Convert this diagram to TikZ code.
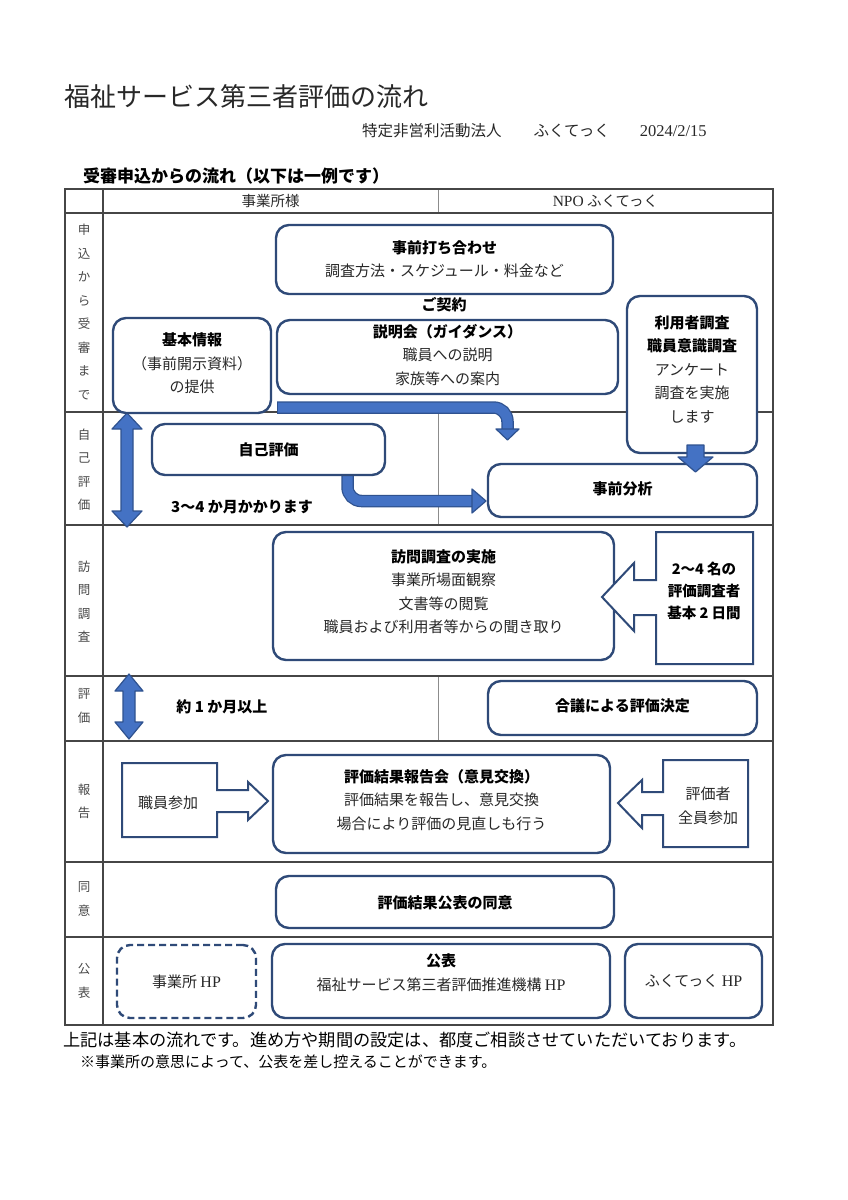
\documentclass[tikz,border=0pt]{standalone}
\usepackage{fontspec}
\setmainfont{Noto Sans CJK JP}
\newfontfamily\lat{Liberation Serif}
\definecolor{navy}{RGB}{47,74,120}
\definecolor{afill}{RGB}{68,114,196}
\definecolor{aedge}{RGB}{47,82,143}
\definecolor{lineg}{RGB}{70,70,70}
\definecolor{lineL}{RGB}{140,140,140}
\definecolor{txt}{RGB}{40,40,40}
\tikzset{
  rbox/.style={draw=navy, line width=2.4pt, rounded corners=13pt, fill=white, inner sep=0pt},
  dbox/.style={rbox, dash pattern=on 7pt off 4pt},
  txtn/.style={align=center, inner sep=0pt, font=\fontsize{15}{23.5}\selectfont, text=txt},
  btxt/.style={align=center, inner sep=0pt, font=\fontsize{15}{23.5}\selectfont\bfseries, text=black},
  callout/.style={draw=navy, line width=2pt, fill=white, line join=miter},
  blk/.style={fill=afill, draw=aedge, line width=1.2pt, line join=round},
  rowlab/.style={align=center, inner sep=0pt, font=\fontsize{12.5}{23.5}\selectfont, text=txt!85},
  tline/.style={draw=lineg, line width=1.2pt},
  mline/.style={draw=lineL, line width=1pt}
}
\begin{document}
\begin{tikzpicture}[x=1pt,y=-1pt]
\useasboundingbox (0,0) rectangle (848,1200);
\fill[white] (0,0) rectangle (848,1200);

% titles
\node[anchor=west, inner sep=0pt, font=\fontsize{26}{30}\selectfont, text=txt] (title) at (64,97) {福祉サービス第三者評価の流れ};
\node[anchor=west, inner sep=0pt, font=\fontsize{15.5}{18}\selectfont, text=txt] (sub) at (362,131) {特定非営利活動法人\hspace{32pt}ふくてっく\hspace{30pt}{\lat\fontsize{16.5}{18}\selectfont 2024/2/15}};
\node[anchor=west, inner sep=0pt, font=\fontsize{17}{19}\selectfont\bfseries] (head) at (83,176) {受審申込からの流れ（以下は一例です）};

% table
\draw[mline] (438,189) -- (438,213);
\draw[mline] (438,412) -- (438,525);
\draw[mline] (438,676) -- (438,741);
\foreach \yy in {213,412,525,676,741,862,937}{\draw[tline] (65,\yy) -- (773,\yy);}
\draw[tline] (103,189) -- (103,1025);
\draw[tline] (65,189) rectangle (773,1025);

\node[txtn, font=\fontsize{14.5}{16}\selectfont] (h1) at (270.5,201) {事業所様};
\node[txtn, font=\fontsize{14.5}{16}\selectfont] (h2) at (605.5,201) {{\lat\fontsize{15.5}{16}\selectfont NPO} ふくてっく};

% row labels
\node[rowlab] (lab1) at (84,312) {申\\込\\か\\ら\\受\\審\\ま\\で};
\node[rowlab] (lab2) at (84,469.5) {自\\己\\評\\価};
\node[rowlab] (lab3) at (84,601.5) {訪\\問\\調\\査};
\node[rowlab] (lab4) at (84,706) {評\\価};
\node[rowlab] (lab5) at (84,801.5) {報\\告};
\node[rowlab] (lab6) at (84,899) {同\\意};
\node[rowlab] (lab7) at (84,981) {公\\表};

% thick flow arrows (behind boxes)
\draw[aedge, line width=12.5pt, rounded corners=14pt] (277,407.5) -- (507.5,407.5) -- (507.5,431);
\draw[afill, line width=10pt, rounded corners=14pt] (278,407.5) -- (507.5,407.5) -- (507.5,432);
\filldraw[blk] (496,429) -- (519,429) -- (507.5,440) -- cycle;

\draw[aedge, line width=12.5pt, rounded corners=14pt] (347.5,465) -- (347.5,501) -- (474,501);
\draw[afill, line width=10pt, rounded corners=14pt] (347.5,465) -- (347.5,501) -- (475,501);
\filldraw[blk] (472,489) -- (486,501) -- (472,513) -- cycle;

% double arrows
\filldraw[blk] (127,413) -- (142,429) -- (133,429) -- (133,511) -- (142,511) -- (127,527) -- (112,511) -- (121,511) -- (121,429) -- (112,429) -- cycle;
\filldraw[blk] (129,674) -- (143,691) -- (135,691) -- (135,722) -- (143,722) -- (129,739) -- (115,722) -- (123,722) -- (123,691) -- (115,691) -- cycle;

% boxes
\node[rbox, minimum width=337pt, minimum height=69pt] (pre) at (444.5,259.5) {};
\node[btxt] (pret) at (444.5,259) {事前打ち合わせ\\\mdseries\color{txt}調査方法・スケジュール・料金など};
\node[btxt] (kei) at (444,305) {ご契約};

\node[rbox, minimum width=341pt, minimum height=74pt] (setsu) at (447.5,357) {};
\node[btxt] (setsut) at (447.5,355) {説明会（ガイダンス）\\\mdseries\color{txt}職員への説明\\\mdseries\color{txt}家族等への案内};

\node[rbox, minimum width=158pt, minimum height=95pt] (kihon) at (192,365.5) {};
\node[btxt] (kihont) at (192,363.5) {基本情報\\\mdseries\color{txt}（事前開示資料）\\\mdseries\color{txt}の提供};

\node[rbox, minimum width=130pt, minimum height=157pt] (riyo) at (692,374.5) {};
\node[btxt] (riyot) at (692,369) {利用者調査\\職員意識調査\\\mdseries\color{txt}アンケート\\\mdseries\color{txt}調査を実施\\\mdseries\color{txt}します};

\node[rbox, minimum width=233pt, minimum height=51pt] (jiko) at (268.5,449.5) {};
\node[btxt] (jikot) at (268.5,450) {自己評価};
\node[btxt] (months) at (242,507) {3〜4 か月かかります};

\node[rbox, minimum width=269pt, minimum height=53pt] (bunseki) at (622.5,490.5) {};
\node[btxt] (bunsekit) at (622.5,489) {事前分析};

% down arrow into analysis
\filldraw[blk] (687,445) -- (704,445) -- (704,457) -- (713,457) -- (695.5,472) -- (678,457) -- (687,457) -- cycle;

% visit
\node[rbox, minimum width=341pt, minimum height=128pt] (houmon) at (443.5,596) {};
\node[btxt] (houmont) at (443.5,591.5) {訪問調査の実施\\\mdseries\color{txt}事業所場面観察\\\mdseries\color{txt}文書等の閲覧\\\mdseries\color{txt}職員および利用者等からの聞き取り};

\draw[callout] (753,532) -- (656,532) -- (656,580) -- (634,580) -- (634,563) -- (602,597) -- (634,631) -- (634,615) -- (656,615) -- (656,664) -- (753,664) -- cycle;
\node[btxt, font=\fontsize{14.5}{22}\selectfont\bfseries] (hyokasha) at (704,591) {2〜4 名の\\評価調査者\\基本 2 日間};

% evaluation
\node[btxt] (ichi) at (222,707) {約 1 か月以上};
\node[rbox, minimum width=269pt, minimum height=54pt] (gogi) at (622.5,708) {};
\node[btxt] (gogit) at (622.5,706) {合議による評価決定};

% report
\draw[callout] (122,763) -- (217,763) -- (217,790) -- (248,790) -- (248,782) -- (268,801) -- (248,820) -- (248,812) -- (217,812) -- (217,837) -- (122,837) -- cycle;
\node[txtn] (shokuin) at (168,803) {職員参加};
\node[rbox, minimum width=337pt, minimum height=98pt] (houkoku) at (441.5,804) {};
\node[btxt] (houkokut) at (441.5,800) {評価結果報告会（意見交換）\\\mdseries\color{txt}評価結果を報告し、意見交換\\\mdseries\color{txt}場合により評価の見直しも行う};
\draw[callout] (663,760) -- (748,760) -- (748,847) -- (663,847) -- (663,815) -- (642,815) -- (642,828) -- (618,803) -- (642,780) -- (642,792) -- (663,792) -- cycle;
\node[txtn] (zenin) at (708,806) {評価者\\全員参加};

% consent
\node[rbox, minimum width=338pt, minimum height=52pt] (doui) at (445,902) {};
\node[btxt] (douit) at (445,903) {評価結果公表の同意};

% publish
\node[dbox, minimum width=139pt, minimum height=73pt] (jhp) at (186.5,981.5) {};
\node[txtn] (jhpt) at (186.5,982) {事業所 {\lat\fontsize{16}{18}\selectfont HP}};
\node[rbox, minimum width=338pt, minimum height=74pt] (kohyo) at (441,981) {};
\node[btxt] (kohyot) at (441,972.5) {公表\\\mdseries\color{txt}福祉サービス第三者評価推進機構 {\lat\fontsize{16}{18}\selectfont HP}};
\node[rbox, minimum width=137pt, minimum height=74pt] (fhp) at (693.5,981) {};
\node[txtn] (fhpt) at (693.5,981) {ふくてっく {\lat\fontsize{16}{18}\selectfont HP}};

% footer
\node[anchor=west, inner sep=0pt, font=\fontsize{17.2}{20}\selectfont] (foot1) at (63,1040) {上記は基本の流れです。進め方や期間の設定は、都度ご相談させていただいております。};
\node[anchor=west, inner sep=0pt, font=\fontsize{15}{18}\selectfont] (foot2) at (80,1062) {※事業所の意思によって、公表を差し控えることができます。};
\end{tikzpicture}
\end{document}
